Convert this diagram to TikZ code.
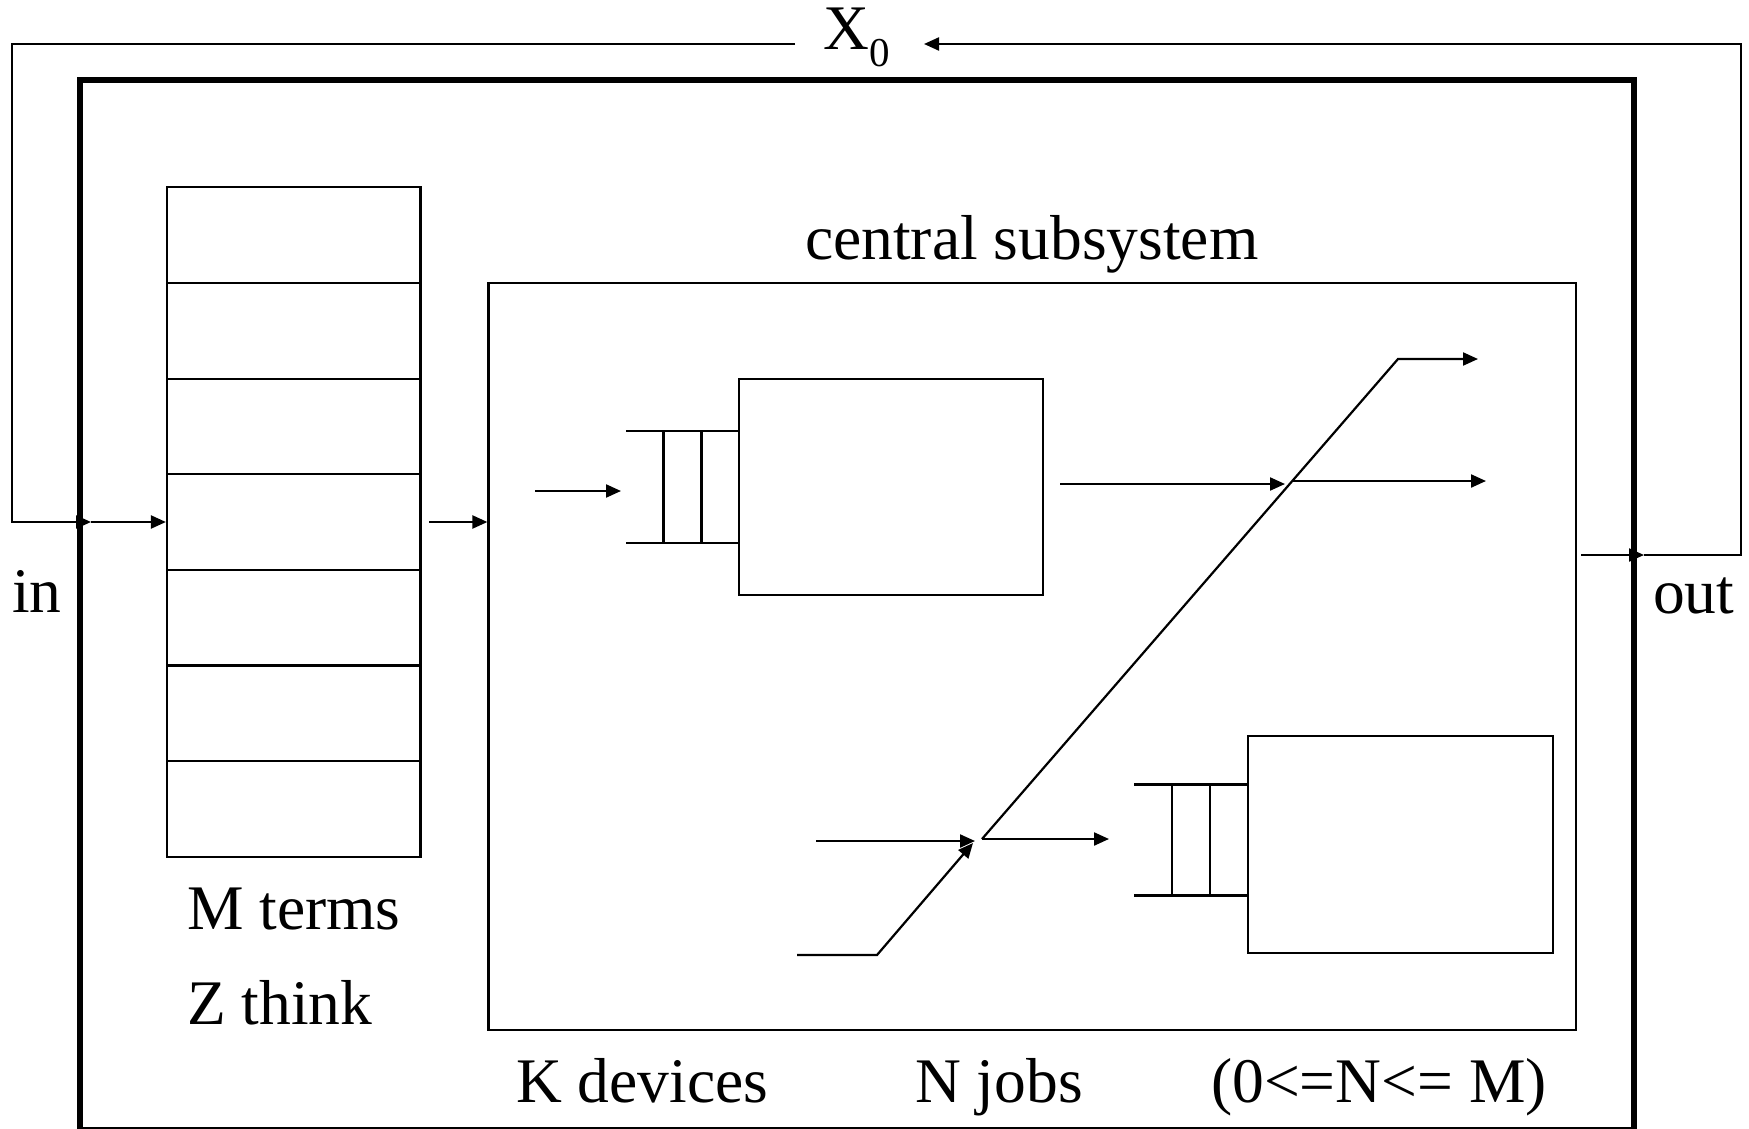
\documentclass[tikz,border=0pt]{standalone}
\usepackage{fontspec}
\setmainfont{Liberation Serif}
\usetikzlibrary{arrows.meta}
\begin{document}
\begin{tikzpicture}[x=1pt,y=-1pt,
  thin line/.style={line width=2.2pt},
  tip/.style={-{Triangle[length=15pt,width=13pt]}},
  boxed/.style={draw,thin line,rectangle,inner sep=0pt},
  lbl/.style={anchor=base west,inner sep=0pt,font=\fontsize{63.5}{70}\selectfont}
]
\useasboundingbox (0,0) rectangle (1749,1129);
% outer thick box
\node[draw,line width=5.5pt,rectangle,inner sep=0pt,minimum width=1554pt,minimum height=1050pt] (outer) at (857,605) {};
% terminals box
\node[boxed,minimum width=253.5pt,minimum height=669.2pt] (terms) at (420.5-126.75,187.4+334.6) {};
\foreach \k in {1,...,6} {
  \draw[thin line] (167,187.4+\k*95.6) -- (420.5,187.4+\k*95.6);
}
% central subsystem
\node[boxed,minimum width=1087.5pt,minimum height=747pt] (central) at (1032.25,656.5) {};
% servers
\node[boxed,minimum width=304pt,minimum height=216pt] (s1) at (891,487) {};
\node[boxed,minimum width=305pt,minimum height=217pt] (s2) at (1400.5,844.5) {};
% queue 1
\draw[thin line] (626,431) -- (s1.west |- 0,431);
\draw[thin line] (626,543) -- (s1.west |- 0,543);
\draw[thin line] (663.5,431) -- (663.5,543);
\draw[thin line] (701.5,431) -- (701.5,543);
% queue 2
\draw[thin line] (1134,784.5) -- (s2.west |- 0,784.5);
\draw[thin line] (1134,895.5) -- (s2.west |- 0,895.5);
\draw[thin line] (1172,784.5) -- (1172,895.5);
\draw[thin line] (1210,784.5) -- (1210,895.5);
% coordinates
\coordinate (fbTL) at (12,44);
\coordinate (fbTR) at (1741,44);
\coordinate (inTip) at (91,522);
\coordinate (outTip) at (1644,555);
\coordinate (xL) at (795,44);
\coordinate (xR) at (924,44);
\coordinate (q1src) at (535,491);
\coordinate (q1tip) at (621,491);
\coordinate (s1out) at (1060,484);
\coordinate (s1tip) at (1285,484);
\coordinate (cross) at (1293,481);
\coordinate (crossTip) at (1486,481);
\coordinate (join) at (982,839);
\coordinate (diagTop) at (1398,359);
\coordinate (topTip) at (1478,359);
\coordinate (q2tip) at (1109,839);
\coordinate (midSrc) at (816,841);
\coordinate (midTip) at (975,841);
\coordinate (lowSrc) at (797,955);
\coordinate (lowBend) at (877,955);
\coordinate (lowTip) at (973,843);
% feedback loop
\draw[thin line,tip] (xL) -- (fbTL) -- (fbTL |- inTip) -- (inTip);
\draw[thin line,tip] (inTip) -- (terms.west |- inTip);
\draw[thin line,tip] (terms.east |- 0,522) ++(7.5,0) -- (central.west |- 0,522);
\draw[thin line,tip] (central.east |- outTip) ++(4,0) -- (outTip);
\draw[thin line,tip] (outTip) -- (fbTR |- outTip) -- (fbTR) -- (xR);
% central routing
\draw[thin line,tip] (q1src) -- (q1tip);
\draw[thin line,tip] (s1out) -- (s1tip);
\draw[thin line,tip] (cross) -- (crossTip);
\draw[thin line,tip] (join) -- (diagTop) -- (topTip);
\draw[thin line,tip] (join) -- (q2tip);
\draw[thin line,tip] (midSrc) -- (midTip);
\draw[thin line,tip] (lowSrc) -- (lowBend) -- (lowTip);
% labels
\node[lbl] (x0) at (823,50) {X\raisebox{-17pt}{\fontsize{41}{41}\selectfont 0}};
\node[lbl] (in) at (12,612) {in};
\node[lbl] (out) at (1653,613) {out};
\node[lbl] (mterms) at (187,929) {M terms};
\node[lbl] (zthink) at (187,1024) {Z think};
\node[lbl] (cs) at (805,259) {central subsystem};
\node[lbl] (kdev) at (516,1102) {K devices};
\node[lbl] (njobs) at (915,1102) {N jobs};
\node[lbl] (range) at (1211,1102) {(0<=N<= M)};
\end{tikzpicture}
\end{document}
